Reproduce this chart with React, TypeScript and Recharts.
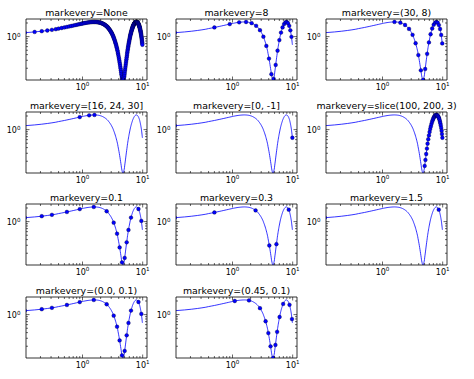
import React from "react"
import { LineChart, Line, XAxis, YAxis } from "recharts"

const XS = [
  0.11, 0.16, 0.21, 0.26, 0.31, 0.36, 0.40, 0.45, 0.50, 0.55,
  0.60, 0.65, 0.70, 0.75, 0.80, 0.85, 0.90, 0.95, 0.99, 1.04,
  1.09, 1.14, 1.19, 1.24, 1.29, 1.34, 1.39, 1.44, 1.49, 1.54,
  1.58, 1.63, 1.68, 1.73, 1.78, 1.83, 1.88, 1.93, 1.98, 2.03,
  2.08, 2.13, 2.17, 2.22, 2.27, 2.32, 2.37, 2.42, 2.47, 2.52,
  2.57, 2.62, 2.67, 2.71, 2.76, 2.81, 2.86, 2.91, 2.96, 3.01,
  3.06, 3.11, 3.16, 3.21, 3.26, 3.30, 3.35, 3.40, 3.45, 3.50,
  3.55, 3.60, 3.65, 3.70, 3.75, 3.80, 3.85, 3.89, 3.94, 3.99,
  4.04, 4.09, 4.14, 4.19, 4.24, 4.29, 4.34, 4.39, 4.43, 4.48,
  4.53, 4.58, 4.63, 4.68, 4.73, 4.78, 4.83, 4.88, 4.93, 4.98,
  5.02, 5.07, 5.12, 5.17, 5.22, 5.27, 5.32, 5.37, 5.42, 5.47,
  5.52, 5.56, 5.61, 5.66, 5.71, 5.76, 5.81, 5.86, 5.91, 5.96,
  6.01, 6.06, 6.11, 6.15, 6.20, 6.25, 6.30, 6.35, 6.40, 6.45,
  6.50, 6.55, 6.60, 6.65, 6.70, 6.74, 6.79, 6.84, 6.89, 6.94,
  6.99, 7.04, 7.09, 7.14, 7.19, 7.24, 7.28, 7.33, 7.38, 7.43,
  7.48, 7.53, 7.58, 7.63, 7.68, 7.73, 7.78, 7.83, 7.88, 7.92,
  7.97, 8.02, 8.07, 8.12, 8.17, 8.22, 8.27, 8.32, 8.37, 8.42,
  8.46, 8.51, 8.56, 8.61, 8.66, 8.71, 8.76, 8.81, 8.86, 8.91,
  8.96, 9.00, 9.05, 9.10, 9.15, 9.20, 9.25, 9.30, 9.35, 9.40,
  9.45, 9.50, 9.55, 9.60, 9.64, 9.69, 9.74, 9.79, 9.84, 9.89,
]

const YS = [
  1.220, 1.269, 1.317, 1.365, 1.412, 1.458, 1.504, 1.549, 1.592, 1.635,
  1.676, 1.716, 1.754, 1.791, 1.826, 1.859, 1.891, 1.921, 1.949, 1.974,
  1.998, 2.020, 2.039, 2.056, 2.071, 2.083, 2.093, 2.101, 2.106, 2.109,
  2.110, 2.108, 2.104, 2.097, 2.088, 2.077, 2.063, 2.047, 2.028, 2.008,
  1.985, 1.960, 1.934, 1.905, 1.874, 1.841, 1.807, 1.771, 1.733, 1.694,
  1.653, 1.611, 1.568, 1.524, 1.479, 1.433, 1.386, 1.338, 1.290, 1.242,
  1.193, 1.144, 1.095, 1.045, 0.996, 0.948, 0.900, 0.852, 0.805, 0.758,
  0.713, 0.668, 0.624, 0.582, 0.541, 0.501, 0.463, 0.426, 0.391, 0.358,
  0.327, 0.297, 0.269, 0.244, 0.220, 0.199, 0.180, 0.163, 0.148, 0.136,
  0.126, 0.118, 0.113, 0.1105, 0.1102, 0.112, 0.117, 0.124, 0.133, 0.144,
  0.158, 0.175, 0.193, 0.214, 0.237, 0.262, 0.289, 0.318, 0.349, 0.381,
  0.416, 0.452, 0.490, 0.529, 0.570, 0.612, 0.655, 0.700, 0.745, 0.791,
  0.838, 0.886, 0.934, 0.982, 1.031, 1.080, 1.129, 1.178, 1.227, 1.276,
  1.324, 1.372, 1.419, 1.465, 1.511, 1.555, 1.599, 1.641, 1.682, 1.721,
  1.760, 1.796, 1.831, 1.865, 1.896, 1.925, 1.953, 1.978, 2.002, 2.023,
  2.042, 2.058, 2.073, 2.085, 2.095, 2.102, 2.107, 2.110, 2.110, 2.108,
  2.103, 2.096, 2.086, 2.074, 2.060, 2.044, 2.025, 2.005, 1.982, 1.956,
  1.929, 1.900, 1.870, 1.836, 1.802, 1.765, 1.727, 1.688, 1.647, 1.605,
  1.562, 1.517, 1.472, 1.425, 1.378, 1.330, 1.282, 1.234, 1.185, 1.136,
  1.087, 1.038, 0.989, 0.940, 0.892, 0.845, 0.797, 0.751, 0.706, 0.661,
]

const TITLES = [
  "None", "8", "(30, 8)",
  "[16, 24, 30]", "[0, -1]", "slice(100, 200, 3)",
  "0.1", "0.3", "1.5",
  "(0.0, 0.1)", "(0.45, 0.1)",
]

// indices of the points that carry a marker (null = every point)
const MARKS: (number[] | null)[] = [
  null,
  [0, 8, 16, 24, 32, 40, 48, 56, 64, 72, 80, 88, 96, 104, 112, 120, 128, 136, 144, 152, 160, 168, 176, 184, 192],
  [30, 38, 46, 54, 62, 70, 78, 86, 94, 102, 110, 118, 126, 134, 142, 150, 158, 166, 174, 182, 190, 198],
  [16, 24, 30],
  [0, 199],
  [100, 103, 106, 109, 112, 115, 118, 121, 124, 127, 130, 133, 136, 139, 142, 145, 148, 151, 154, 157, 160, 163, 166, 169, 172, 175, 178, 181, 184, 187, 190, 193, 196, 199],
  [0, 2, 4, 9, 16, 29, 49, 65, 74, 82, 90, 100, 108, 116, 128, 171, 191],
  [0, 8, 47, 81, 107, 173],
  [0, 173],
  [0, 2, 4, 9, 16, 29, 49, 65, 74, 82, 90, 100, 108, 116, 128, 171, 191],
  [20, 36, 56, 70, 78, 85, 94, 103, 110, 121, 139, 178, 196],
]

const X_TICKS = [0.2, 0.3, 0.4, 0.5, 0.6, 0.7, 0.8, 0.9, 1, 2, 3, 4, 5, 6, 7, 8, 9, 10]
const Y_TICKS = [0.2, 0.3, 0.4, 0.5, 0.6, 0.7, 0.8, 0.9, 1, 2]
const X_MAJOR = [1, 10]
const Y_MAJOR = [1]
const X_DOMAIN = [0.115, 11.8]
const Y_DOMAIN = [0.11, 2.45]

const data = XS.map((x, i) => ({ x, y: YS[i] }))

const COL_LEFT = [26, 176, 326]
const ROW_TOP = [19, 112, 204, 297]
const W = 121
const H = 61
const PAD = 22
const AX = 15 // size given to each axis band
const FONT = "'DejaVu Sans', 'Bitstream Vera Sans', sans-serif"
const BLUE = "#0000ff"

const exponent = (v: number) => String(Math.round(Math.log10(v)))

function xTick(side: "bottom" | "top") {
  return (p: any) => {
    const v = p.payload.value
    const major = X_MAJOR.includes(v)
    const len = major ? 3.5 : 2
    const d = side === "bottom" ? -1 : 1
    return (
      <g key={`${side}-${v}`}>
        <line x1={p.x} x2={p.x} y1={p.y} y2={p.y + d * len} stroke="#000" strokeWidth={0.6} />
        {major && side === "bottom" ? (
          <text x={p.x} y={p.y + 9.8} textAnchor="middle" fontFamily={FONT} fontSize={8} fill="#000">
            10<tspan dy={-3.6} fontSize={5.6}>{exponent(v)}</tspan>
          </text>
        ) : null}
      </g>
    )
  }
}

function yTick(side: "left" | "right") {
  return (p: any) => {
    const v = p.payload.value
    const major = Y_MAJOR.includes(v)
    const len = major ? 3.5 : 2
    const d = side === "left" ? 1 : -1
    return (
      <g key={`${side}-${v}`}>
        <line x1={p.x} x2={p.x + d * len} y1={p.y} y2={p.y} stroke="#000" strokeWidth={0.6} />
        {major && side === "left" ? (
          <text x={p.x - 5.5} y={p.y + 3.8} textAnchor="end" fontFamily={FONT} fontSize={8} fill="#000">
            10<tspan dy={-3.6} fontSize={5.6}>{exponent(v)}</tspan>
          </text>
        ) : null}
      </g>
    )
  }
}

function Panel({ idx }: { idx: number }) {
  const col = idx % 3
  const row = Math.floor(idx / 3)
  const marks = MARKS[idx]
  const set = marks ? new Set(marks) : null
  const frame = { stroke: "#000", strokeWidth: 0.8 }

  return (
    <div style={{ position: "absolute", left: COL_LEFT[col] - PAD, top: ROW_TOP[row] - PAD }}>
      <LineChart
        width={W + 2 * PAD}
        height={H + 2 * PAD}
        data={data}
        margin={{ top: PAD - AX, bottom: PAD - AX, left: PAD - AX, right: PAD - AX }}
      >
        <XAxis xAxisId="b" dataKey="x" type="number" scale="log" domain={X_DOMAIN} allowDataOverflow
          orientation="bottom" height={AX} ticks={X_TICKS} interval={0} tickSize={0} tickMargin={0}
          axisLine={frame} tickLine={false} tick={xTick("bottom")} />
        <XAxis xAxisId="t" dataKey="x" type="number" scale="log" domain={X_DOMAIN} allowDataOverflow
          orientation="top" height={AX} ticks={X_TICKS} interval={0} tickSize={0} tickMargin={0}
          axisLine={frame} tickLine={false} tick={xTick("top")} />
        <YAxis yAxisId="l" dataKey="y" type="number" scale="log" domain={Y_DOMAIN} allowDataOverflow
          orientation="left" width={AX} ticks={Y_TICKS} interval={0} tickSize={0} tickMargin={0}
          axisLine={frame} tickLine={false} tick={yTick("left")} />
        <YAxis yAxisId="r" dataKey="y" type="number" scale="log" domain={Y_DOMAIN} allowDataOverflow
          orientation="right" width={AX} ticks={Y_TICKS} interval={0} tickSize={0} tickMargin={0}
          axisLine={frame} tickLine={false} tick={yTick("right")} />
        <Line xAxisId="t" yAxisId="r" dataKey="y" stroke="none" dot={false} activeDot={false}
          isAnimationActive={false} />
        <Line
          xAxisId="b"
          yAxisId="l"
          dataKey="y"
          type="linear"
          stroke={BLUE}
          strokeWidth={0.8}
          activeDot={false}
          isAnimationActive={false}
          dot={(p: any) =>
            !set || set.has(p.index) ? (
              <circle key={`d${p.index}`} cx={p.cx} cy={p.cy} r={1.9} fill={BLUE} stroke="#000" strokeWidth={0.3} />
            ) : (
              <g key={`d${p.index}`} />
            )
          }
        />
      </LineChart>
    </div>
  )
}

export default function App() {
  return (
    <div style={{ position: "absolute", left: 0, top: 0, width: 474, height: 379, background: "#fff", overflow: "hidden" }}>
      {TITLES.map((_, i) => (
        <Panel key={i} idx={i} />
      ))}
      <svg width={474} height={379} style={{ position: "absolute", left: 0, top: 0, pointerEvents: "none" }}>
        {TITLES.map((t, i) => (
          <text
            key={i}
            x={COL_LEFT[i % 3] + W / 2}
            y={ROW_TOP[Math.floor(i / 3)] - 3.4}
            textAnchor="middle"
            fontFamily={FONT}
            fontSize={9.4}
            fill="#000"
          >
            markevery={t}
          </text>
        ))}
      </svg>
    </div>
  )
}
